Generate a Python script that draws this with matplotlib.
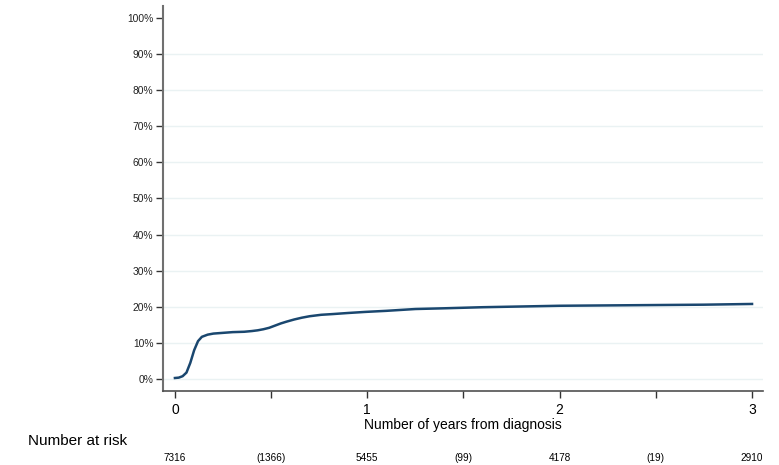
import matplotlib
matplotlib.use("Agg")
import matplotlib.pyplot as plt
import matplotlib.transforms as mtransforms

plt.rcParams['font.family'] = ['Liberation Sans', 'DejaVu Sans']

# Cumulative incidence curve (years, fraction)
years = [0.0, 0.02, 0.04, 0.06, 0.08, 0.10, 0.12, 0.14, 0.17, 0.20, 0.25, 0.30,
         0.36, 0.40, 0.43, 0.46, 0.49, 0.52, 0.55, 0.58, 0.62, 0.66, 0.70, 0.76, 0.82, 0.90, 0.99,
         1.10, 1.25, 1.40, 1.60, 1.80, 2.00, 2.25, 2.50, 2.75, 3.00]
incidence = [0.003, 0.004, 0.008, 0.018, 0.045, 0.080, 0.105, 0.117, 0.123, 0.126, 0.128, 0.130,
             0.131, 0.133, 0.135, 0.138, 0.142, 0.148, 0.154, 0.159, 0.165, 0.170, 0.174, 0.178, 0.180, 0.183, 0.186,
             0.189, 0.194, 0.196, 0.199, 0.201, 0.203, 0.204, 0.205, 0.206, 0.208]

xticks = [0, 0.5, 1, 1.5, 2, 2.5, 3]
xticklabels = ['0', '', '1', '', '2', '', '3']
yticks = [0, 0.1, 0.2, 0.3, 0.4, 0.5, 0.6, 0.7, 0.8, 0.9, 1.0]
yticklabels = ['0%', '10%', '20%', '30%', '40%', '50%', '60%', '70%', '80%', '90%', '100%']

risk_times = [0, 0.5, 1, 1.5, 2, 2.5, 3]
risk_labels = ['7316', '(1366)', '5455', '(99)', '4178', '(19)', '2910']

fig = plt.figure(figsize=(7.79, 4.65), dpi=100)
ax = fig.add_axes([163/779, 1 - 391/465, (763 - 163)/779, (391 - 6)/465])

for y in yticks[:-1]:
    ax.axhline(y, color='#eaf2f3', lw=1.0, zorder=0)

ax.plot(years, incidence, color='#1a476f', lw=1.8, zorder=3)

ax.set_xlim(-0.062, 3.057)
ax.set_ylim(-0.033, 1.033)
ax.set_xticks(xticks)
ax.set_xticklabels(xticklabels, fontsize=10)
ax.set_yticks(yticks)
ax.set_yticklabels(yticklabels, fontsize=7.4)
ax.tick_params(axis='x', length=5, width=1, color='#333333', pad=3.5)
ax.tick_params(axis='y', length=5, width=1, color='#333333', pad=2, labelcolor='#222222')

for s in ['top', 'right']:
    ax.spines[s].set_visible(False)
ax.spines['left'].set_color('#707070')
ax.spines['left'].set_linewidth(1.5)
ax.spines['bottom'].set_color('#505050')
ax.spines['bottom'].set_linewidth(1.2)

ax.set_xlabel('Number of years from diagnosis', fontsize=10, labelpad=0.5)

trans = mtransforms.blended_transform_factory(ax.transData, fig.transFigure)
for t, lab in zip(risk_times, risk_labels):
    ax.text(t, 1 - 458/465, lab, transform=trans, ha='center', va='center',
            fontsize=7.2, clip_on=False)
fig.text(28/779, 1 - 441/465, 'Number at risk', ha='left', va='center', fontsize=11)

fig.savefig('out.png', dpi=100)
